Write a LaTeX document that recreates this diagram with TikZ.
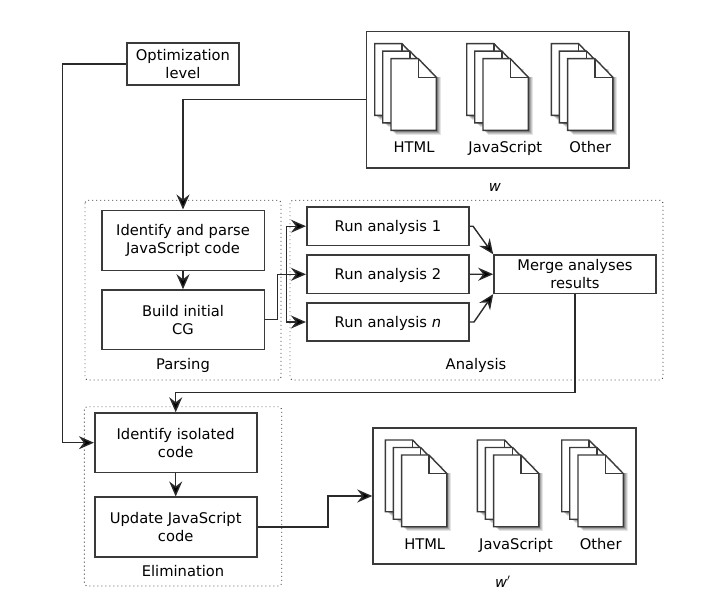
\documentclass[tikz,border=0pt]{standalone}
\usepackage{fontspec}
\setmainfont{DejaVu Sans}
\usetikzlibrary{arrows.meta}
\definecolor{ln}{HTML}{3A3A3A}
\definecolor{cn}{HTML}{2A2A2A}
\tikzset{
  x=1pt,y=-1pt,
  every node/.style={text=black,font=\fontsize{14.7}{18}\selectfont,align=center,inner sep=0pt},
  box/.style={draw=ln,line width=1.6pt,fill=white,execute at begin node={\rule{0pt}{14pt}}},
  lab/.style={anchor=base},
  grp/.style={draw=ln,line width=0.9pt,dash pattern=on 0.9pt off 3.1pt,rounded corners=3pt},
  conn/.style={draw=cn,line width=1.4pt,-{Stealth[length=15pt,width=13pt,inset=5pt,fill=black]}},
  sheet/.style={draw=ln,line width=1.4pt,fill=white,line join=miter},
}
\newcommand{\sheetat}[2]{%
  \foreach \k/\o in {4.2/0.10,3.2/0.13,2.2/0.16,1.2/0.2}{%
    \fill[black,opacity=\o] (#1+1.2+\k,#2+18) -- (#1+45.3+\k,#2+18) -- (#1+45.3+\k,#2+71.7+\k) -- (#1+1.2+\k,#2+71.7+\k) -- cycle;}%
  \draw[sheet] (#1,#2) -- (#1+27.3,#2) -- (#1+45.3,#2+18.6) -- (#1+45.3,#2+71.7) -- (#1,#2+71.7) -- cycle;
  \draw[draw=ln,line width=1.4pt] (#1+27.3,#2) -- (#1+27.3,#2+18.6) -- (#1+45.3,#2+18.6);}
\newcommand{\stackat}[2]{\sheetat{#1}{#2}\sheetat{#1+8}{#2+7.5}\sheetat{#1+16.3}{#2+15}}
\begin{document}
\begin{tikzpicture}
\useasboundingbox (0,0) rectangle (725,615);
% dotted groups
\draw[grp] (85,200.3) rectangle (281,380);
\draw[grp] (290,200.3) rectangle (663,380);
\draw[grp] (84.3,406.7) rectangle (281.7,586);
% boxes
\node[box,minimum width=112.3pt,minimum height=42pt] (opt) at (182.9,64) {Optimization\\level};
\node[box,fill=none,minimum width=262.4pt,minimum height=136pt] (w) at (497.5,99.7) {};
\node[box,fill=none,minimum width=262.7pt,minimum height=136pt] (wp) at (504.4,496) {};
\node[box,minimum width=162.6pt,minimum height=60pt] (parse) at (183,240.3) {Identify and parse\\JavaScript code};
\node[box,minimum width=162.6pt,minimum height=59.3pt] (build) at (183,319.7) {Build initial\\CG};
\node[box,minimum width=162.3pt,minimum height=38.5pt] (r1) at (387.9,226.2) {Run analysis 1};
\node[box,minimum width=162.3pt,minimum height=38.5pt] (r2) at (387.9,274.3) {Run analysis 2};
\node[box,minimum width=162.3pt,minimum height=38.5pt] (rn) at (387.9,322) {Run analysis \textit{n}};
\node[box,minimum width=162pt,minimum height=38.3pt] (merge) at (575,274.2) {Merge analyses\\results};
\node[box,minimum width=162pt,minimum height=59.3pt] (iso) at (175.7,442.7) {Identify isolated\\code};
\node[box,minimum width=162pt,minimum height=59.7pt] (upd) at (175.7,527.1) {Update JavaScript\\code};
% labels
\node[lab] (lparse) at (183,369) {Parsing};
\node[lab] (lana) at (476,369) {Analysis};
\node[lab] (lelim) at (183,576) {Elimination};
\node[lab] (lw) at (495,191) {\textit{w}};
\node[lab] (lwp) at (502.7,587) {\textit{w}$'$};
% documents
\stackat{374.7}{43.7}\stackat{466.7}{43.7}\stackat{551.3}{43.7}
\stackat{385.3}{440}\stackat{477.3}{440}\stackat{561.7}{440}
\node[lab] (a1) at (414,153) {HTML};
\node[lab] (a2) at (505.3,153) {JavaScript};
\node[lab] (a3) at (590.3,153) {Other};
\node[lab] (b1) at (424.7,549.5) {HTML};
\node[lab] (b2) at (516,549.5) {JavaScript};
\node[lab] (b3) at (600.7,549.5) {Other};
% connectors
\draw[conn] (opt.west) -- (62.3,64) |- (iso.west);
\draw[conn] (w.west) -- (183,99.7) -- (parse.north);
\draw[conn] (parse.south) -- (build.north);
\draw[conn] (iso.south) -- (upd.north);
\draw[conn] (build.east) -- (277.7,319.7) |- (r2.west);
\draw[conn] (build.east) -- (277.7,319.7) -- (277.7,274.3) -- (286.7,274.3) |- (r1.west);
\draw[conn] (build.east) -- (277.7,319.7) -- (277.7,274.3) -- (286.7,274.3) |- (rn.west);
\draw[conn] (r1.east) -- (473,226.2) -- (merge.north west);
\draw[conn] (r2.east) -- (merge.west);
\draw[conn] (rn.east) -- (474,322) -- (merge.south west);
\draw[conn] (merge.south) -- (575,392.7) -- (175.7,392.7) -- (iso.north);
\draw[conn] (upd.east) -- (328,527.1) |- (wp.west);
\end{tikzpicture}
\end{document}
